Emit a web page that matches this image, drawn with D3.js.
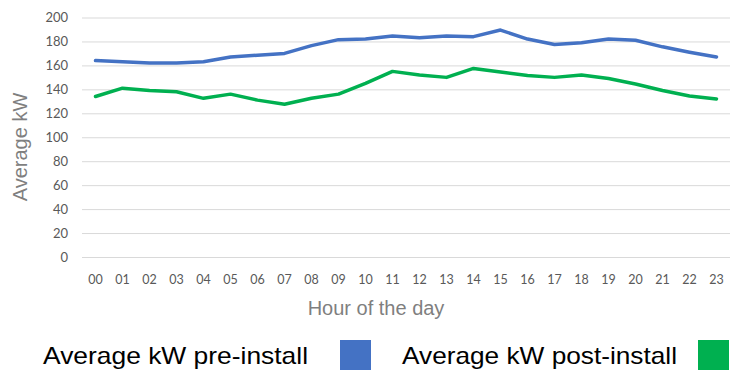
<!DOCTYPE html>
<html>
<head>
<meta charset="utf-8">
<script src="https://cdn.jsdelivr.net/npm/d3@7"></script>
<style>
	body { margin: 0; background: #fff; }
	svg { display: block; }
</style>
</head>
<body>
<div id="chart"></div>
<script>
var windowW = 731;
var windowH = 370;

// hours and series
var hours = ["00","01","02","03","04","05","06","07","08","09","10","11",
	"12","13","14","15","16","17","18","19","20","21","22","23"];
var preInstall = [164, 163, 162, 162, 163, 167, 168.5, 170, 176.5, 181.5, 182, 184.5,
	183, 184.5, 184, 189.5, 182, 177.5, 179, 182, 181, 175.5, 171, 167];
var postInstall = [134, 141, 139, 138, 132.5, 136, 131, 127.5, 132.5, 136, 145, 155,
	152, 150, 157.5, 154.5, 151.5, 150, 152, 149, 144.5, 139, 134.5, 132];
var yTicks = [0, 20, 40, 60, 80, 100, 120, 140, 160, 180, 200];
var seriesNames = ["Average kW pre-install", "Average kW post-install"];

var preColor = "#4472C4";
var postColor = "#00B050";
var gridColor = "#D9D9D9";
var tickColor = "#595959";
var titleColor = "#7F7F7F";

var plotLeft = 82, plotRight = 730, plotTop = 17.5, plotBottom = 257;

var svg = d3.select("#chart").append("svg")
	.attr("width", windowW)
	.attr("height", windowH);

var x = d3.scaleBand()
	.domain(hours)
	.range([plotLeft, plotRight]);

var y = d3.scaleLinear()
	.domain([0, 200])
	.range([plotBottom, plotTop]);

//////// gridlines + y labels
var yAxis = d3.axisLeft(y)
	.tickValues(yTicks)
	.tickSize(-(plotRight - plotLeft))
	.tickPadding(14)
	.tickFormat(d3.format("d"));

var yG = svg.append("g")
	.attr("transform", "translate(" + plotLeft + ",0)")
	.call(yAxis);

yG.select(".domain").remove();
yG.selectAll(".tick line")
	.attr("stroke", gridColor)
	.attr("stroke-width", 1);
yG.selectAll(".tick text")
	.attr("fill", tickColor)
	.style("font-family", "Lato, sans-serif")
	.style("font-size", "13px");

//////// x labels
var xAxis = d3.axisBottom(x)
	.tickSize(0)
	.tickPadding(18);

var xG = svg.append("g")
	.attr("transform", "translate(0," + plotBottom + ")")
	.call(xAxis);

xG.select(".domain").remove();
xG.selectAll(".tick text")
	.attr("fill", tickColor)
	.style("font-family", "Lato, sans-serif")
	.style("font-size", "12.5px");

//////// lines
var line = d3.line()
	.x(function(d, i) { return x(hours[i]) + x.bandwidth() / 2; })
	.y(function(d) { return y(d); });

svg.append("path")
	.datum(preInstall)
	.attr("fill", "none")
	.attr("stroke", preColor)
	.attr("stroke-width", 3.5)
	.attr("stroke-linejoin", "round")
	.attr("stroke-linecap", "round")
	.attr("d", line);

svg.append("path")
	.datum(postInstall)
	.attr("fill", "none")
	.attr("stroke", postColor)
	.attr("stroke-width", 3.5)
	.attr("stroke-linejoin", "round")
	.attr("stroke-linecap", "round")
	.attr("d", line);

//////// axis titles
svg.append("text")
	.attr("transform", "translate(27,147) rotate(-90)")
	.attr("text-anchor", "middle")
	.attr("fill", titleColor)
	.style("font-family", "'Liberation Sans', Arial, sans-serif")
	.style("font-size", "20px")
	.text("Average kW");

svg.append("text")
	.attr("x", 376)
	.attr("y", 315)
	.attr("text-anchor", "middle")
	.attr("fill", titleColor)
	.style("font-family", "'Liberation Sans', Arial, sans-serif")
	.style("font-size", "20px")
	.text("Hour of the day");

//////// legend
var legendX = [43, 402];
var legendW = [265, 275];
var swatchX = [340, 698];
var colors = [preColor, postColor];

seriesNames.forEach(function(name, i) {
	svg.append("text")
		.attr("x", legendX[i])
		.attr("y", 364)
		.attr("textLength", legendW[i])
		.attr("lengthAdjust", "spacingAndGlyphs")
		.attr("fill", "#000")
		.style("font-family", "'Liberation Sans', Arial, sans-serif")
		.style("font-size", "24px")
		.text(name);

	svg.append("rect")
		.attr("x", swatchX[i])
		.attr("y", 340)
		.attr("width", 31)
		.attr("height", 40)
		.attr("fill", colors[i]);
});
</script>
</body>
</html>
